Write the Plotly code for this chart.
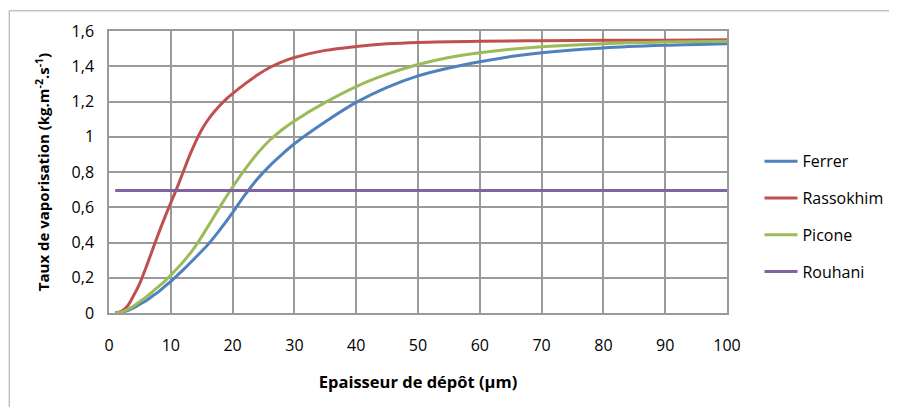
import plotly.graph_objects as go

# ---- data ----
x_ferrer = [1, 2, 3, 4, 5, 6, 7, 8, 9, 10, 12, 14, 16, 18, 20, 22, 24, 26, 28, 30,
            35, 40, 45, 50, 55, 60, 65, 70, 80, 90, 100]
y_ferrer = [0, 0.003, 0.014, 0.03, 0.05, 0.07, 0.095, 0.12, 0.15, 0.18, 0.245, 0.315, 0.388,
            0.475, 0.57, 0.67, 0.76, 0.835, 0.90, 0.96, 1.085, 1.195, 1.28, 1.345, 1.39,
            1.425, 1.455, 1.477, 1.504, 1.519, 1.528]

x_rasso = [1, 2, 3, 4, 5, 6, 7, 8, 9, 10, 11, 12, 13, 14, 15, 16, 17, 18, 19, 20, 22, 24,
           26, 28, 30, 35, 40, 45, 50, 60, 70, 80, 90, 100]
y_rasso = [0, 0.01, 0.04, 0.10, 0.17, 0.26, 0.355, 0.45, 0.54, 0.625, 0.71, 0.80, 0.89, 0.97,
           1.04, 1.095, 1.14, 1.18, 1.215, 1.245, 1.30, 1.35, 1.393, 1.425, 1.45, 1.49,
           1.512, 1.527, 1.535, 1.542, 1.545, 1.547, 1.548, 1.55]

x_picone = [1, 2, 3, 4, 5, 6, 7, 8, 9, 10, 12, 14, 16, 18, 20, 22, 24, 26, 28, 30,
            35, 40, 45, 50, 55, 60, 65, 70, 80, 90, 100]
y_picone = [0, 0.005, 0.02, 0.04, 0.065, 0.09, 0.12, 0.15, 0.18, 0.215, 0.29, 0.38, 0.49,
            0.605, 0.715, 0.815, 0.905, 0.98, 1.04, 1.09, 1.195, 1.285, 1.355, 1.41, 1.45,
            1.477, 1.497, 1.511, 1.528, 1.537, 1.542]

x_rouhani = [1, 100]
y_rouhani = [0.695, 0.695]

series_names = ["Ferrer", "Rassokhim", "Picone", "Rouhani"]
series_colors = ["#4F81BD", "#C0504D", "#9BBB59", "#8064A2"]

x_tickvals = [0, 10, 20, 30, 40, 50, 60, 70, 80, 90, 100]
x_ticktext = ["0", "10", "20", "30", "40", "50", "60", "70", "80", "90", "100"]
y_tickvals = [0, 0.2, 0.4, 0.6, 0.8, 1.0, 1.2, 1.4, 1.6]
y_ticktext = ["0", "0,2", "0,4", "0,6", "0,8", "1", "1,2", "1,4", "1,6"]

FONT = "Open Sans"

fig = go.Figure()
xs = [x_ferrer, x_rasso, x_picone, x_rouhani]
ys = [y_ferrer, y_rasso, y_picone, y_rouhani]
for i, (xv, yv) in enumerate(zip(xs, ys)):
    fig.add_trace(go.Scatter(
        x=xv, y=yv, mode="lines", name=series_names[i],
        legendgroup=series_names[i],
        line=dict(color=series_colors[i], width=3, shape="spline", smoothing=1.0),
    ))

# page body has an 8px margin: figure coordinates = screen - 8
W, H = 889, 399
L, R, T, B = 101.3, 169.5, 22.7, 94.3
pw, ph = W - L - R, H - T - B

def px2paper_x(px):
    return (px - 8 - L) / pw

def px2paper_y(py):
    return (H - B - (py - 8)) / ph

fig.update_layout(
    width=W, height=H,
    margin=dict(l=L, r=R, t=T, b=B, autoexpand=False),
    paper_bgcolor="white", plot_bgcolor="white",
    font=dict(family=FONT, size=16, color="black"),
    showlegend=True,
    legend=dict(
        x=px2paper_x(760), y=px2paper_y(144), xanchor="left", yanchor="top",
        traceorder="grouped", tracegroupgap=13,
        font=dict(family=FONT, size=16, color="black"),
        bgcolor="rgba(0,0,0,0)", itemwidth=33,
    ),
    xaxis=dict(
        range=[0, 100], tickvals=x_tickvals, ticktext=x_ticktext,
        showgrid=True, gridcolor="#9a9a9a", gridwidth=1.5,
        showline=True, linecolor="#9a9a9a", linewidth=1.5, mirror=True,
        ticks="outside", ticklen=17, tickcolor="rgba(0,0,0,0)",
        zeroline=False,
        tickfont=dict(family=FONT, size=16, color="black"),
        title=dict(text="<b>Epaisseur de dépôt (µm)</b>", standoff=21,
                   font=dict(family=FONT, size=16.5, color="black")),
    ),
    yaxis=dict(
        range=[0, 1.6], tickvals=y_tickvals, ticktext=y_ticktext,
        showgrid=True, gridcolor="#9a9a9a", gridwidth=1.5,
        showline=True, linecolor="#9a9a9a", linewidth=1.5, mirror=True,
        ticks="outside", ticklen=10, tickcolor="rgba(0,0,0,0)",
        zeroline=False,
        tickfont=dict(family=FONT, size=16, color="black"),
        title=dict(text="<b>Taux de vaporisation (kg.m<sup>-2</sup>.s<sup>-1</sup>)</b>", standoff=18,
                   font=dict(family=FONT, size=15, color="black")),
    ),
    shapes=[dict(
        type="rect", xref="paper", yref="paper", layer="below",
        x0=px2paper_x(9.5), x1=px2paper_x(905),
        y0=px2paper_y(412), y1=px2paper_y(10.5),
        line=dict(color="#a6a6a6", width=1), fillcolor="rgba(0,0,0,0)",
    )],
)

fig.write_html("out.html")
